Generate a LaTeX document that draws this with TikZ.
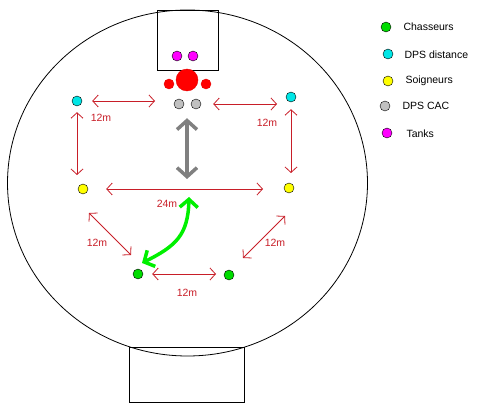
\documentclass[tikz,border=0pt]{standalone}
\usepackage{fontspec}
\setmainfont{Liberation Sans}
\usetikzlibrary{
    arrows.meta,
    calc,
    positioning
}
\definecolor{distred}{RGB}{200,30,40}
\definecolor{chasse}{RGB}{0,220,0}
\definecolor{dpsdist}{RGB}{0,230,230}
\definecolor{soin}{RGB}{255,255,0}
\definecolor{dpscac}{RGB}{192,192,192}
\definecolor{tank}{RGB}{255,0,255}
\definecolor{swapgreen}{RGB}{0,240,0}
\tikzset{pdot/.style={inner sep=0pt, circle, draw=black, minimum size=10pt},
    bossdot/.style={inner sep=0pt, circle, draw=red!90!black, fill=red},
    dist/.style={draw=distred, line width=0.8pt, {Straight Barb[length=5.5pt,width=12pt]}-{Straight Barb[length=5.5pt,width=12pt]}},
    distlbl/.style={text=distred, font=\fontsize{10.5}{12}\selectfont},
    leglbl/.style={anchor=west, font=\fontsize{10.5}{12}\selectfont}}

\begin{document}
\begin{tikzpicture}[x=1pt, y=-1pt]
                                \useasboundingbox (0,0) rectangle (477,417);
                                \draw[line width=0.8pt] (187.5,183) ellipse (180 and 173);
                                \draw[line width=0.8pt] (157,10) rectangle (218,70);
                                \draw[line width=0.8pt] (129,347) rectangle (244,402);
                                \node[pdot, fill=tank] (tankL) at (177,56) {};
                                \node[pdot, fill=tank] (tankR) at (193,56) {};
                                \node[bossdot, minimum size=22pt] (boss) at (187,80) {};
                                \node[bossdot, minimum size=10pt] (addL) at (169,84) {};
                                \node[bossdot, minimum size=10pt] (addR) at (206,84) {};
                                \node[pdot, fill=dpscac] (cacL) at (179,104) {};
                                \node[pdot, fill=dpscac] (cacR) at (196,104) {};
                                \node[pdot, fill=dpsdist] (distL) at (77,101) {};
                                \node[pdot, fill=dpsdist] (distR) at (291,97) {};
                                \node[pdot, fill=soin] (soinL) at (83,189) {};
                                \node[pdot, fill=soin] (soinR) at (289,188) {};
                                \node[pdot, fill=chasse] (chasseL) at (138,274) {};
                                \node[pdot, fill=chasse] (chasseR) at (229,275) {};
                                \coordinate (diagLa) at (89,213);
                                \coordinate (diagLb) at (131,255);
                                \coordinate (diagRa) at (243,258);
                                \coordinate (diagRb) at (285,216);
                                \coordinate (swapTop) at (189,197);
                                \coordinate (swapBot) at (142,263);
                                \draw[dist, shorten <=10pt, shorten >=24pt] (distL) -- (distL -| cacL);
                                \draw[dist, shorten <=12pt, shorten >=14pt] (cacR) -- (cacR -| distR);
                                \draw[dist, shorten <=6pt, shorten >=14pt] (distL) -- (distL |- soinL);
                                \draw[dist, shorten <=7pt, shorten >=15pt] (distR) -- (distR |- soinR);
                                \draw[dist, shorten <=18pt, shorten >=26pt] (soinL) -- (soinL -| soinR);
                                \draw[dist] (diagLa) -- (diagLb);
                                \draw[dist] (diagRa) -- (diagRb);
                                \draw[dist, shorten <=9pt, shorten >=13pt] (chasseL) -- (chasseL -| chasseR);
                                \draw[draw=gray, line width=3.5pt, {Straight Barb[length=9pt,width=20pt]}-{Straight Barb[length=9pt,width=20pt]}, shorten <=27pt, shorten >=10pt] (boss) -- (boss |- soinL);
                                \draw[draw=swapgreen, line width=3.5pt, {Straight Barb[length=8pt,width=18pt]}-{Straight Barb[length=8pt,width=18pt]}] (swapTop) .. controls (188,235) and (176,246) .. (swapBot);
                                \node[distlbl] (lblDistL) at (101,118) {12m};
                                \node[distlbl] (lblDistR) at (267,123) {12m};
                                \node[distlbl] (lblSoin) at (167,204) {24m};
                                \node[distlbl] (lblDiagL) at (97,243) {12m};
                                \node[distlbl] (lblDiagR) at (275,243) {12m};
                                \node[distlbl] (lblChasse) at (187,293) {12m};
                                \node[pdot, fill=chasse] (legChasse) at (386,27) {};
                                \node[pdot, fill=dpsdist] (legDist) at (388,54) {};
                                \node[pdot, fill=soin] (legSoin) at (388,81) {};
                                \node[pdot, fill=dpscac] (legCac) at (385,106) {};
                                \node[pdot, fill=tank] (legTank) at (387,133) {};
                                \node[leglbl] at (400,27) {Chasseurs};
                                \node[leglbl] at (401,55) {DPS distance};
                                \node[leglbl] at (402,81) {Soigneurs};
                                \node[leglbl] at (399,106) {DPS CAC};
                                \node[leglbl] at (403,134) {Tanks};
                            \end{tikzpicture}
\end{document}
